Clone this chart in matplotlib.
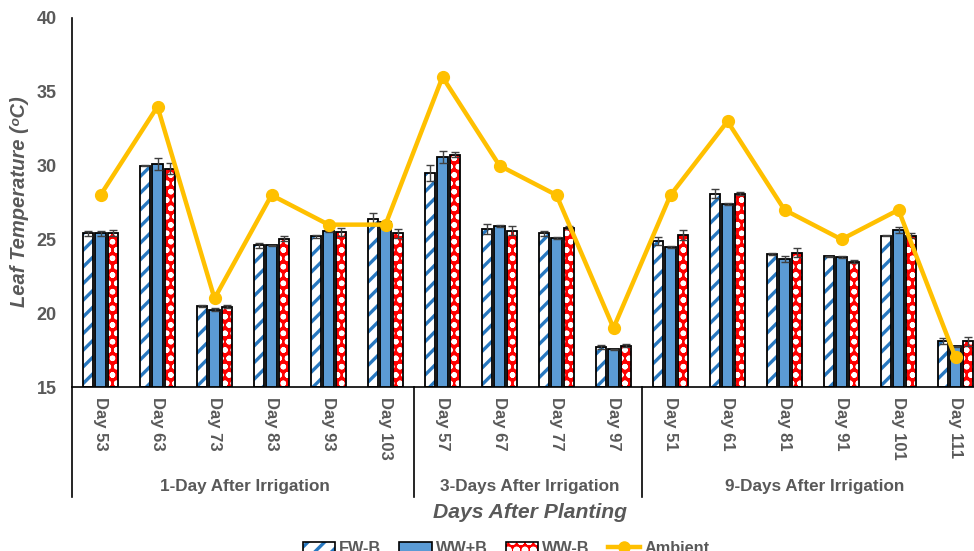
import matplotlib
matplotlib.use("Agg")
import matplotlib.pyplot as plt
from matplotlib.patches import Patch
from matplotlib.lines import Line2D
from matplotlib.legend_handler import HandlerTuple
import numpy as np

# ---- data -------------------------------------------------------------
days = ["Day 53", "Day 63", "Day 73", "Day 83", "Day 93", "Day 103",
        "Day 57", "Day 67", "Day 77", "Day 97",
        "Day 51", "Day 61", "Day 81", "Day 91", "Day 101", "Day 111"]
groups = ["1-Day After Irrigation", "3-Days After Irrigation", "9-Days After Irrigation"]
group_sizes = [6, 4, 6]

fw_b = [25.4, 30.0, 20.5, 24.6, 25.2, 26.4, 29.5, 25.7, 25.4, 17.7,
        24.9, 28.1, 24.0, 23.85, 25.25, 18.1]
ww_pb = [25.4, 30.1, 20.25, 24.6, 25.55, 26.15, 30.6, 25.9, 25.1, 17.55,
         24.5, 27.4, 23.7, 23.8, 25.65, 17.75]
ww_mb = [25.45, 29.8, 20.45, 25.05, 25.5, 25.4, 30.75, 25.6, 25.8, 17.8,
         25.3, 28.1, 24.1, 23.5, 25.25, 18.1]
ambient = [28, 34, 21, 28, 26, 26, 36, 30, 28, 19, 28, 33, 27, 25, 27, 17]

fw_b_err = [0.2, 0.05, 0.08, 0.15, 0.08, 0.4, 0.55, 0.35, 0.15, 0.15,
            0.25, 0.3, 0.05, 0.05, 0.05, 0.2]
ww_pb_err = [0.2, 0.4, 0.1, 0.05, 0.05, 0.1, 0.4, 0.05, 0.05, 0.05,
             0.05, 0.1, 0.2, 0.05, 0.2, 0.05]
ww_mb_err = [0.2, 0.35, 0.08, 0.15, 0.25, 0.3, 0.2, 0.3, 0.1, 0.1,
             0.35, 0.1, 0.3, 0.1, 0.15, 0.3]

# ---- style ------------------------------------------------------------
plt.rcParams["font.family"] = ["Liberation Sans", "DejaVu Sans"]

GRAY = "#595959"
BLUE = "#5B9BD5"
STRIPE = "#2878C0"
RED = "#FF0000"
GOLD = "#FFC000"

fig = plt.figure(figsize=(9.74, 5.51), dpi=100)
ax = fig.add_axes([72 / 974, 1 - 387 / 551, 912 / 974, 369 / 551])

x = np.arange(len(days))
w = 0.19
off = 0.22


def hatched_bars(xpos, vals, face, hatch_col, hatch, hlw):
    bars = ax.bar(xpos, [v - 15 for v in vals], w, bottom=15, color=face,
                  edgecolor=hatch_col, hatch=hatch, linewidth=0, zorder=2)
    for b in bars:
        if hasattr(b, "set_hatch_linewidth"):
            b.set_hatch_linewidth(hlw)
    ax.bar(xpos, [v - 15 for v in vals], w, bottom=15, fill=False,
           edgecolor="black", linewidth=1.3, zorder=3)


plt.rcParams["hatch.linewidth"] = 2.4
hatched_bars(x - off, fw_b, "white", STRIPE, "//", 2.4)
ax.bar(x, [v - 15 for v in ww_pb], w, bottom=15, color=BLUE,
       edgecolor="black", linewidth=1.3, zorder=3)
hatched_bars(x + off, ww_mb, RED, "white", "oo", 1.6)

for xs, vals, errs in [(x - off, fw_b, fw_b_err), (x, ww_pb, ww_pb_err),
                       (x + off, ww_mb, ww_mb_err)]:
    ax.errorbar(xs, vals, yerr=errs, fmt="none", ecolor="#404040",
                elinewidth=1, capsize=3, capthick=1, zorder=4)

ax.plot(x, ambient, color=GOLD, lw=3.2, marker="o", ms=8.5, zorder=5)

# ---- axes -------------------------------------------------------------
ax.set_xlim(-0.5, len(days) - 0.5)
ax.set_ylim(15, 40)
ax.set_yticks([15, 20, 25, 30, 35, 40])
ax.tick_params(axis="y", length=0, pad=11, labelsize=13, labelcolor=GRAY)
for t in ax.get_yticklabels():
    t.set_fontweight("bold")
ax.set_xticks(x)
ax.set_xticklabels(days, rotation=270, fontsize=12, fontweight="bold",
                   color=GRAY, va="top", ha="center")
ax.tick_params(axis="x", length=0, pad=7)

for s in ["top", "right", "left"]:
    ax.spines[s].set_visible(False)
ax.spines["bottom"].set_linewidth(1.2)

# left axis and group separators extending below the plot
trans = ax.get_xaxis_transform()
bounds = np.concatenate([[0], np.cumsum(group_sizes)]) - 0.5
for b in bounds[:-1]:
    ax.plot([b, b], [-0.298, 1.0 if b == bounds[0] else 0], color="black",
            lw=1.2, transform=trans, clip_on=False, zorder=6)

for g, lo, hi in zip(groups, bounds[:-1], bounds[1:]):
    ax.text((lo + hi) / 2 + 0.03, -0.271, g, transform=trans, ha="center",
            va="center", fontsize=12.3, fontweight="bold", color=GRAY)

ax.text(0.5 * (bounds[0] + bounds[-1]) + 0.035, -0.34, "Days After Planting",
        transform=trans, ha="center", va="center", fontsize=15.2,
        fontweight="bold", style="italic", color=GRAY)

fig.text(20 / 974, 1 - 202 / 551, "Leaf Temperature (ᵒC)", rotation=90,
         ha="center", va="center", fontsize=14.5, fontweight="bold",
         style="italic", color=GRAY)

# ---- legend -----------------------------------------------------------
h_fw = (Patch(facecolor="white", edgecolor=STRIPE, hatch="//", lw=0),
        Patch(fill=False, edgecolor="black", lw=1.2))
h_pb = Patch(facecolor=BLUE, edgecolor="black", lw=1.2)
h_mb = (Patch(facecolor=RED, edgecolor="white", hatch="oo", lw=0),
        Patch(fill=False, edgecolor="black", lw=1.2))
h_amb = Line2D([], [], color=GOLD, lw=3.2, marker="o", ms=8)
leg = fig.legend([h_fw, h_pb, h_mb, h_amb], ["FW-B", "WW+B", "WW-B", "Ambient"],
                 handler_map={tuple: HandlerTuple(ndivide=1)},
                 loc="center", bbox_to_anchor=(506 / 974, 1 - 548.5 / 551),
                 ncol=4, frameon=False, handlelength=2.0, columnspacing=1.1,
                 handletextpad=0.25, borderpad=0.2,
                 prop={"weight": "bold", "size": 11.7})
for t in leg.get_texts():
    t.set_color(GRAY)

fig.savefig("out.png", dpi=100)
